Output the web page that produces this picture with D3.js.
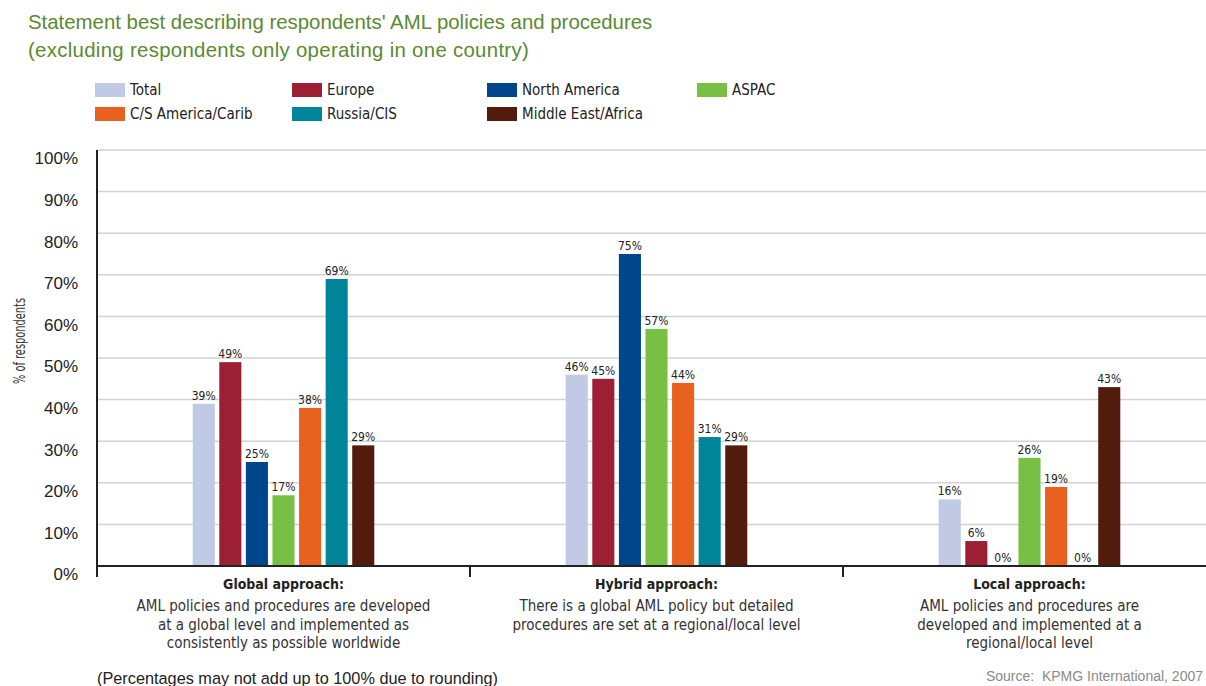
<!DOCTYPE html>
<html>
<head>
<meta charset="utf-8">
<script src="https://cdn.jsdelivr.net/npm/d3@7"></script>
<style>
  html, body { margin: 0; padding: 0; background: #fff; }
  svg { display: block; }
  .cond { font-family: "Liberation Sans Narrow", "Arial Narrow", "DejaVu Sans Condensed", sans-serif; }
</style>
</head>
<body>
<svg id="chart" width="1206" height="686"></svg>
<script>
// Approach categories and their descriptions
const categories = ["Global approach:", "Hybrid approach:", "Local approach:"];
const categoryNotes = [
  ["AML policies and procedures are developed", "at a global level and implemented as", "consistently as possible worldwide"],
  ["There is a global AML policy but detailed", "procedures are set at a regional/local level"],
  ["AML policies and procedures are", "developed and implemented at a", "regional/local level"]
];

// Regions (series) and colours
const regions = ["Total", "Europe", "North America", "ASPAC", "C/S America/Carib", "Russia/CIS", "Middle East/Africa"];
const regionColors = ["#c0cae5", "#9c1f34", "#00468b", "#78c043", "#e8611f", "#00859a", "#531b0b"];

// Percentage of respondents per region, one array per region (Global, Hybrid, Local)
const totalValues = [39, 46, 16];
const europeValues = [49, 45, 6];
const northAmericaValues = [25, 75, 0];
const aspacValues = [17, 57, 26];
const csAmericaValues = [38, 44, 19];
const russiaValues = [69, 31, 0];
const middleEastValues = [29, 29, 43];
const seriesValues = [totalValues, europeValues, northAmericaValues, aspacValues, csAmericaValues, russiaValues, middleEastValues];

const yTicks = [0, 10, 20, 30, 40, 50, 60, 70, 80, 90, 100];

const svg = d3.select("#chart");

// Title
const title = svg.append("g")
  .attr("font-family", "Liberation Sans, Arial, sans-serif")
  .attr("font-size", 20.4)
  .attr("fill", "#5b8a2f");
title.append("text").attr("x", 28).attr("y", 29).text("Statement best describing respondents' AML policies and procedures");
title.append("text").attr("x", 28).attr("y", 57).attr("letter-spacing", 0.3).text("(excluding respondents only operating in one country)");

// Legend
const legendCols = [95, 292, 487, 697];
const legendRows = [83, 107];
const legend = svg.append("g").attr("class", "cond");
regions.forEach((r, i) => {
  const col = i < 4 ? i : i - 4;
  const row = i < 4 ? 0 : 1;
  const g = legend.append("g").attr("transform", `translate(${legendCols[col]},${legendRows[row]})`);
  g.append("rect").attr("width", 30).attr("height", 14).attr("fill", regionColors[i]);
  g.append("text").attr("x", 35).attr("y", 12).attr("font-size", 15).attr("fill", "#222").text(r);
});

// Scales
const plotLeft = 97, groupWidth = 373;
const x0 = d3.scaleBand().domain(categories).range([plotLeft, plotLeft + groupWidth * 3]).padding(0);
const x1 = d3.scaleBand().domain(regions).range([0, groupWidth]).paddingInner(0.17).paddingOuter(3.6);
const y = d3.scaleLinear().domain([0, 100]).range([566, 150]);

// Gridlines
svg.append("g")
  .selectAll("line")
  .data(yTicks.filter(t => t > 0))
  .join("line")
  .attr("x1", plotLeft).attr("x2", 1206)
  .attr("y1", d => y(d)).attr("y2", d => y(d))
  .attr("stroke", "#d2d2d2").attr("stroke-width", 1.5);

// Y axis labels
const yAxis = svg.append("g")
  .attr("transform", `translate(${plotLeft},0)`)
  .call(d3.axisLeft(y).tickValues(yTicks).tickFormat(d => d + "%").tickSize(0).tickPadding(19));
yAxis.select(".domain").remove();
yAxis.selectAll("text")
  .attr("font-family", "Liberation Sans, Arial, sans-serif")
  .attr("font-size", 17)
  .attr("fill", "#222")
  .attr("dy", "0.82em");

// Y axis title
svg.append("text")
  .attr("class", "cond")
  .attr("transform", "translate(25,341) rotate(-90)")
  .attr("text-anchor", "middle")
  .attr("font-size", 15)
  .attr("textLength", 86)
  .attr("lengthAdjust", "spacingAndGlyphs")
  .attr("fill", "#333")
  .text("% of respondents");

// Bars
const rows = [];
categories.forEach((c, ci) => {
  regions.forEach((r, ri) => rows.push({ cat: c, region: r, ri, value: seriesValues[ri][ci] }));
});

const bars = svg.append("g");
bars.selectAll("rect")
  .data(rows)
  .join("rect")
  .attr("x", d => x0(d.cat) + x1(d.region))
  .attr("y", d => y(d.value))
  .attr("width", x1.bandwidth())
  .attr("height", d => y(0) - y(d.value))
  .attr("fill", d => regionColors[d.ri]);

// Value labels
bars.selectAll("text")
  .data(rows)
  .join("text")
  .attr("class", "cond")
  .attr("x", d => x0(d.cat) + x1(d.region) + x1.bandwidth() / 2)
  .attr("y", d => y(d.value) - 4)
  .attr("text-anchor", "middle")
  .attr("font-size", 12)
  .attr("fill", "#222")
  .text(d => d.value + "%");

// Axes lines
svg.append("line")
  .attr("x1", plotLeft).attr("x2", plotLeft)
  .attr("y1", y(100)).attr("y2", 577)
  .attr("stroke", "#222").attr("stroke-width", 2);
svg.append("line")
  .attr("x1", plotLeft).attr("x2", 1206)
  .attr("y1", y(0)).attr("y2", y(0))
  .attr("stroke", "#222").attr("stroke-width", 2);
svg.append("g")
  .selectAll("line")
  .data(categories.slice(1))
  .join("line")
  .attr("x1", d => x0(d)).attr("x2", d => x0(d))
  .attr("y1", y(0)).attr("y2", 577)
  .attr("stroke", "#222").attr("stroke-width", 2);

// Category labels
const catG = svg.append("g").attr("class", "cond");
categories.forEach((c, ci) => {
  const cx = x0(c) + groupWidth / 2;
  catG.append("text")
    .attr("x", cx).attr("y", 589)
    .attr("text-anchor", "middle")
    .attr("font-size", 14).attr("font-weight", "bold").attr("fill", "#222")
    .text(c);
  categoryNotes[ci].forEach((line, li) => {
    catG.append("text")
      .attr("x", cx).attr("y", 611 + li * 18.5)
      .attr("text-anchor", "middle")
      .attr("font-size", 15).attr("fill", "#333")
      .text(line);
  });
});

// Footnotes
svg.append("text")
  .attr("x", 97).attr("y", 684)
  .attr("font-family", "Liberation Sans, Arial, sans-serif")
  .attr("font-size", 16.3).attr("fill", "#222")
  .text("(Percentages may not add up to 100% due to rounding)");
svg.append("text")
  .attr("x", 1203).attr("y", 681)
  .attr("text-anchor", "end")
  .attr("font-family", "Liberation Sans, Arial, sans-serif")
  .attr("font-size", 14).attr("fill", "#8a8a8a")
  .style("white-space", "pre")
  .text("Source:  KPMG International, 2007");
</script>
</body>
</html>
